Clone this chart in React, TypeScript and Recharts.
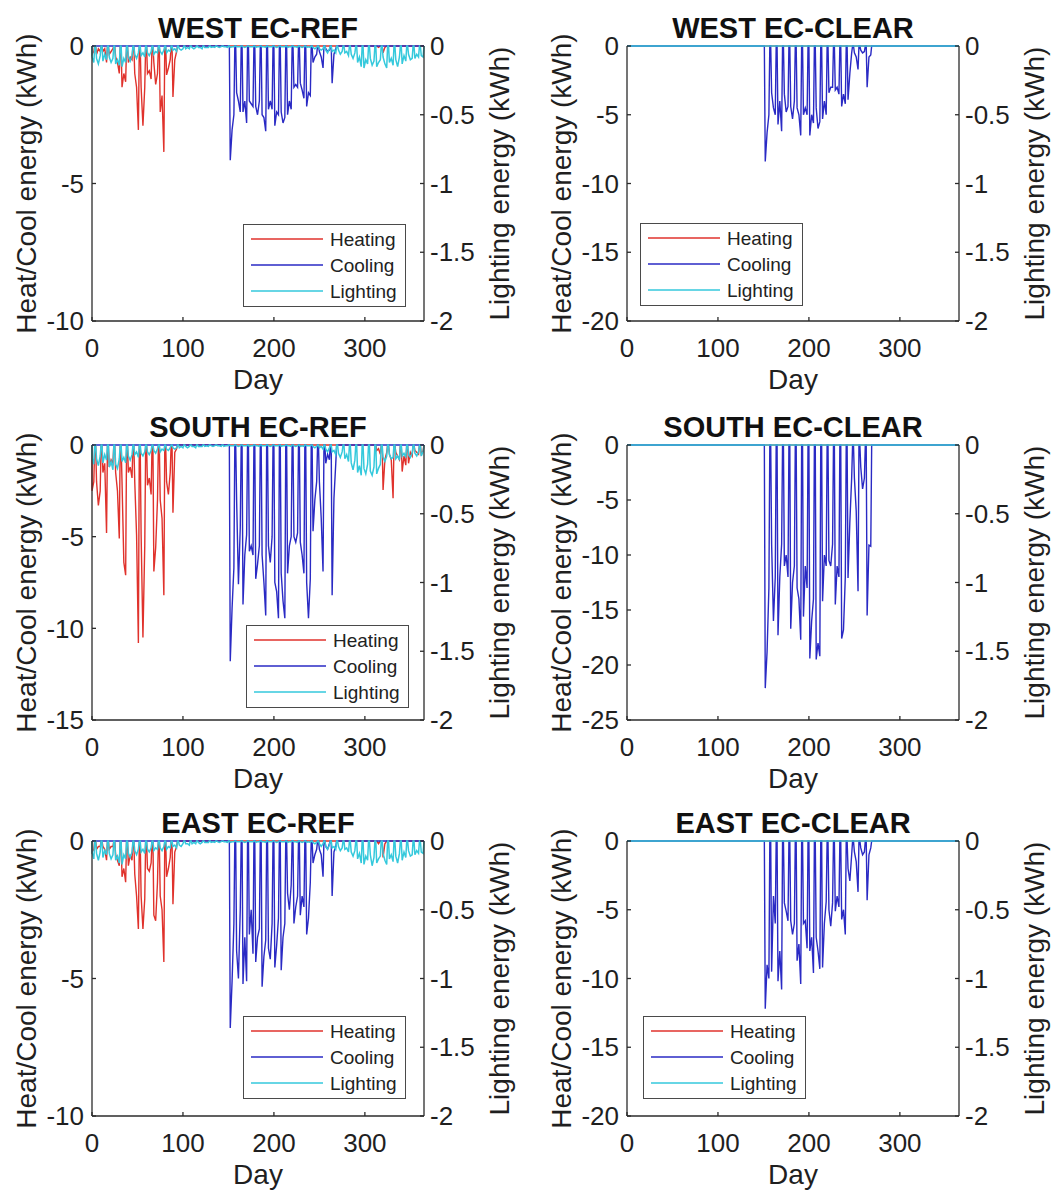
import React from 'react';
import { LineChart, Line, XAxis, YAxis, Legend, Label } from 'recharts';

const FONT = 'Arial, "Liberation Sans", Helvetica, sans-serif';
const TEXT_COLOR = '#1f1f1f';
const FRAME_COLOR = '#2b2b2b';
const HEAT_COLOR = '#e0322c';
const COOL_COLOR = '#2a2ac4';
const LIGHT_COLOR = '#35c9dc';

const dayDomain = [0, 365];
const dayTicks = [0, 100, 200, 300];
const lightingDomain = [-2, 0];
const lightingTicks = [-2, -1.5, -1, -0.5, 0];
const heatCoolTicks10 = [-10, -5, 0];
const heatCoolTicks15 = [-15, -10, -5, 0];
const heatCoolTicks20 = [-20, -15, -10, -5, 0];
const heatCoolTicks25 = [-25, -20, -15, -10, -5, 0];

const seriesNames = ['Heating', 'Cooling', 'Lighting'];
const seriesColors = [HEAT_COLOR, COOL_COLOR, LIGHT_COLOR];

// First Monday (day index) of each block of weekly values.
// Each week lists the Monday, Wednesday and Friday values; weekends are zero.
const yearStart = -2;
const winterStart = -2;
const coolingStart = 152;
const autumnStart = 313;

// ---------- WEST EC-REF ----------
const westRefHeatingWinter = [
  [-0.5, -0.3, -0.2], [-0.3, -0.1, -0.2], [-0.2, -0.1, -0.6], [-0.3, -0.2, -0.1], [-0.4, -0.6, -1.0],
  [-1.5, -1.0, -1.3], [-0.6, -0.4, -0.5], [-1.0, -1.5, -3.05], [-1.5, -2.9, -1.5], [-1.0, -0.9, -1.2],
  [-0.6, -1.4, -1.0], [-2.4, -1.8, -3.85], [-1.05, -0.8, -0.5], [-1.85, -0.5, -0.2],
];
const westRefHeatingAutumn = [[0, -0.05, 0], [-0.25, -0.05, 0]];
const westRefCooling = [
  [-4.15, -3.05, -2.5], [-1.7, -2.0, -2.4], [-2.4, -2.0, -2.8], [-2.0, -2.1, -2.2], [-2.2, -2.5, -2.0],
  [-2.5, -2.6, -3.1], [-2.3, -2.0, -2.3], [-2.9, -2.4, -2.5], [-2.4, -2.8, -2.6], [-2.5, -2.0, -2.3],
  [-1.5, -1.4, -1.5], [-1.35, -1.6, -1.9], [-2.2, -1.7, -1.8], [-0.6, -0.4, -0.3], [-0.2, -0.4, -0.8],
  [-0.1, -0.2, -0.15], [-1.35, -0.3, -0.1],
];
const westRefLighting = [
  [-0.10, -0.08, -0.12], [-0.09, -0.13, -0.07], [-0.11, -0.06, -0.10], [-0.08, -0.12, -0.09], [-0.13, -0.10, -0.14],
  [-0.15, -0.09, -0.12], [-0.08, -0.11, -0.07], [-0.06, -0.09, -0.05], [-0.07, -0.05, -0.08], [-0.05, -0.07, -0.04],
  [-0.06, -0.04, -0.05], [-0.04, -0.06, -0.03], [-0.05, -0.03, -0.04], [-0.03, -0.02, -0.04], [-0.02, -0.03, -0.02],
  [-0.02, -0.01, -0.02], [-0.01, -0.02, -0.01], [-0.01, -0.01, -0.02], [-0.01, -0.01, -0.01], [-0.01, -0.005, -0.01],
  [-0.005, -0.01, -0.005], [-0.005, -0.005, -0.01], [-0.01, -0.005, -0.005], [-0.005, -0.005, -0.005], [-0.005, -0.01, -0.005],
  [-0.005, -0.005, -0.005], [-0.01, -0.005, -0.005], [-0.005, -0.005, -0.01], [-0.005, -0.005, -0.005], [-0.005, -0.01, -0.005],
  [-0.005, -0.005, -0.005], [-0.01, -0.005, -0.005], [-0.005, -0.005, -0.01], [-0.005, -0.01, -0.005], [-0.01, -0.005, -0.01],
  [-0.01, -0.02, -0.01], [-0.02, -0.03, -0.02], [-0.03, -0.05, -0.02], [-0.04, -0.03, -0.05], [-0.03, -0.06, -0.04],
  [-0.05, -0.04, -0.07], [-0.06, -0.09, -0.05], [-0.12, -0.08, -0.15], [-0.16, -0.10, -0.13], [-0.09, -0.14, -0.11],
  [-0.15, -0.12, -0.10], [-0.08, -0.13, -0.16], [-0.12, -0.09, -0.14], [-0.10, -0.15, -0.08], [-0.13, -0.07, -0.11],
  [-0.06, -0.10, -0.09], [-0.09, -0.06, -0.08], [-0.07, -0.08, -0.06],
];

// ---------- WEST EC-CLEAR ----------
const westClearCooling = [
  [-8.4, -6.3, -5.0], [-3.4, -4.5, -5.0], [-5.7, -4.0, -6.2], [-3.5, -4.8, -4.4], [-4.4, -5.3, -4.0],
  [-4.5, -5.0, -6.5], [-5.0, -4.5, -5.0], [-6.5, -5.0, -5.6], [-4.5, -6.0, -5.5], [-5.3, -4.0, -5.0],
  [-3.4, -3.0, -3.0], [-3.2, -3.0, -3.5], [-4.4, -3.5, -4.2], [-3.9, -2.0, -0.5], [-0.5, -0.8, -1.7],
  [-0.3, -0.5, -0.4], [-3.0, -0.8, -0.65],
];

// ---------- SOUTH EC-REF ----------
const southRefHeatingWinter = [
  [-3.3, -2.5, -2.0], [-2.0, -3.3, -2.5], [-1.5, -1.0, -4.8], [-1.2, -0.8, -1.0], [-1.5, -2.5, -5.1],
  [-2.0, -6.4, -7.1], [-1.5, -1.2, -1.8], [-2.0, -4.9, -10.8], [-4.9, -10.5, -5.5], [-2.2, -1.8, -2.7],
  [-6.9, -5.6, -3.0], [-3.0, -4.0, -8.2], [-2.0, -2.7, -1.5], [-3.7, -0.4, -0.2],
];
const southRefHeatingAutumn = [
  [-0.3, -0.2, -0.5], [-2.45, -0.8, -0.4], [-0.5, -0.8, -2.9], [-0.4, -0.6, -0.8],
  [-1.45, -0.6, -1.1], [-1.0, -0.4, -0.6], [-0.3, -0.4, -0.5], [-0.5, -0.3, -0.2],
];
const southRefCooling = [
  [-11.8, -8.9, -6.7], [-3.0, -7.6, -4.5], [-8.7, -6.0, -4.9], [-5.8, -5.5, -6.0], [-7.3, -6.5, -5.5],
  [-6.0, -7.5, -9.3], [-5.5, -6.4, -5.0], [-7.5, -8.0, -9.45], [-7.0, -8.5, -9.45], [-7.0, -5.5, -5.0],
  [-5.0, -5.3, -4.8], [-5.3, -6.0, -7.0], [-7.5, -9.45, -7.3], [-4.7, -3.0, -2.0], [-2.0, -4.0, -6.9],
  [-1.0, -0.5, -0.8], [-8.2, -2.9, -1.0],
];
const southRefLighting = [
  [-0.12, -0.09, -0.14], [-0.10, -0.15, -0.08], [-0.13, -0.07, -0.11], [-0.16, -0.12, -0.18], [-0.14, -0.17, -0.10],
  [-0.12, -0.09, -0.13], [-0.08, -0.11, -0.07], [-0.07, -0.05, -0.09], [-0.06, -0.08, -0.05], [-0.05, -0.07, -0.04],
  [-0.04, -0.06, -0.03], [-0.05, -0.03, -0.04], [-0.03, -0.04, -0.02], [-0.02, -0.03, -0.02], [-0.02, -0.01, -0.02],
  [-0.01, -0.02, -0.01], [-0.01, -0.01, -0.02], [-0.01, -0.01, -0.01], [-0.01, -0.005, -0.01], [-0.005, -0.01, -0.005],
  [-0.005, -0.005, -0.01], [-0.01, -0.005, -0.005], [-0.005, -0.005, -0.005], [-0.005, -0.01, -0.005], [-0.005, -0.005, -0.005],
  [-0.01, -0.005, -0.005], [-0.005, -0.005, -0.01], [-0.005, -0.005, -0.005], [-0.005, -0.01, -0.005], [-0.005, -0.005, -0.005],
  [-0.01, -0.005, -0.005], [-0.005, -0.005, -0.01], [-0.005, -0.01, -0.005], [-0.01, -0.005, -0.01], [-0.005, -0.005, -0.005],
  [-0.01, -0.02, -0.01], [-0.02, -0.01, -0.03], [-0.03, -0.05, -0.02], [-0.05, -0.04, -0.07], [-0.06, -0.09, -0.05],
  [-0.10, -0.07, -0.12], [-0.13, -0.18, -0.11], [-0.20, -0.15, -0.22], [-0.17, -0.21, -0.14], [-0.19, -0.22, -0.16],
  [-0.21, -0.17, -0.14], [-0.09, -0.12, -0.08], [-0.07, -0.10, -0.09], [-0.10, -0.08, -0.11], [-0.08, -0.06, -0.09],
  [-0.07, -0.09, -0.06], [-0.06, -0.08, -0.05], [-0.08, -0.05, -0.07],
];

// ---------- SOUTH EC-CLEAR ----------
const southClearCooling = [
  [-22.1, -18.8, -13.0], [-9.0, -16.0, -12.0], [-17.3, -12.0, -9.0], [-11.0, -10.0, -12.0], [-16.7, -12.5, -11.0],
  [-13.0, -14.0, -17.7], [-15.6, -11.0, -13.0], [-19.4, -16.0, -14.0], [-19.5, -18.0, -19.2], [-14.2, -10.0, -11.0],
  [-10.5, -11.0, -9.0], [-14.5, -11.0, -12.0], [-17.6, -16.8, -12.0], [-12.1, -7.0, -3.0], [-3.0, -6.0, -13.3],
  [-2.0, -4.0, -3.0], [-15.5, -9.1, -9.2],
];

// ---------- EAST EC-REF ----------
const eastRefHeatingWinter = [
  [-0.6, -0.4, -0.3], [-0.3, -0.2, -0.2], [-0.2, -0.3, -0.7], [-0.3, -0.2, -0.2], [-0.5, -0.7, -0.9],
  [-1.3, -1.0, -1.5], [-0.9, -0.5, -0.7], [-1.2, -2.0, -3.2], [-2.0, -3.2, -2.1], [-1.0, -1.1, -0.8],
  [-2.7, -2.9, -1.5], [-2.0, -2.5, -4.4], [-1.3, -1.0, -0.6], [-2.3, -0.4, -0.2],
];
const eastRefHeatingAutumn = [[0, -0.1, 0], [-0.6, -0.1, 0]];
const eastRefCooling = [
  [-6.8, -5.1, -3.0], [-4.0, -5.0, -2.5], [-5.2, -3.5, -5.1], [-3.4, -2.5, -4.1], [-4.4, -3.5, -3.2],
  [-5.3, -4.2, -3.6], [-3.9, -4.3, -3.0], [-4.6, -3.8, -2.8], [-4.7, -3.5, -3.0], [-1.9, -2.5, -1.6],
  [-3.0, -2.4, -2.0], [-2.7, -2.0, -2.4], [-3.4, -2.8, -1.5], [-0.8, -0.5, -0.3], [-0.3, -0.5, -1.3],
  [-0.2, -0.3, -0.1], [-2.0, -0.4, -0.2],
];
const eastRefLighting = [
  [-0.11, -0.08, -0.13], [-0.09, -0.14, -0.08], [-0.12, -0.07, -0.10], [-0.09, -0.13, -0.10], [-0.14, -0.11, -0.16],
  [-0.17, -0.10, -0.13], [-0.09, -0.12, -0.08], [-0.07, -0.10, -0.06], [-0.08, -0.06, -0.09], [-0.06, -0.08, -0.05],
  [-0.07, -0.05, -0.06], [-0.05, -0.07, -0.04], [-0.06, -0.04, -0.05], [-0.04, -0.03, -0.05], [-0.03, -0.04, -0.02],
  [-0.02, -0.02, -0.03], [-0.02, -0.01, -0.02], [-0.01, -0.02, -0.01], [-0.01, -0.01, -0.01], [-0.01, -0.005, -0.01],
  [-0.005, -0.01, -0.005], [-0.005, -0.005, -0.01], [-0.01, -0.005, -0.005], [-0.005, -0.005, -0.005], [-0.005, -0.01, -0.005],
  [-0.005, -0.005, -0.005], [-0.01, -0.005, -0.005], [-0.005, -0.005, -0.01], [-0.005, -0.005, -0.005], [-0.005, -0.01, -0.005],
  [-0.005, -0.005, -0.005], [-0.01, -0.005, -0.005], [-0.005, -0.005, -0.01], [-0.005, -0.01, -0.005], [-0.01, -0.005, -0.01],
  [-0.01, -0.02, -0.01], [-0.02, -0.04, -0.02], [-0.04, -0.06, -0.03], [-0.05, -0.04, -0.06], [-0.04, -0.07, -0.05],
  [-0.06, -0.05, -0.08], [-0.08, -0.11, -0.07], [-0.13, -0.09, -0.16], [-0.17, -0.11, -0.14], [-0.10, -0.18, -0.12],
  [-0.16, -0.13, -0.11], [-0.09, -0.14, -0.17], [-0.13, -0.10, -0.15], [-0.11, -0.16, -0.09], [-0.14, -0.08, -0.12],
  [-0.07, -0.11, -0.10], [-0.10, -0.07, -0.09], [-0.08, -0.09, -0.07],
];

// ---------- EAST EC-CLEAR ----------
const eastClearCooling = [
  [-12.2, -9.0, -10.0], [-9.5, -4.0, -6.0], [-10.2, -8.0, -10.8], [-4.5, -5.1, -5.8], [-5.8, -6.8, -6.0],
  [-8.7, -7.5, -10.4], [-6.0, -5.8, -7.8], [-8.0, -7.0, -9.6], [-7.0, -8.0, -9.3], [-9.2, -6.0, -4.4],
  [-5.0, -6.2, -4.5], [-5.1, -4.0, -4.8], [-5.7, -5.0, -6.8], [-2.0, -2.9, -1.0], [-0.8, -1.5, -3.7],
  [-0.5, -1.0, -0.8], [-4.3, -1.0, -0.5],
];

type Segment = { start: number; weeks: number[][] };
type Pt = { day: number; v: number };

function weeklyToPoints(segments: Segment[]): Pt[] {
  const raw: Pt[] = [{ day: 0, v: 0 }];
  segments.forEach((seg) => {
    raw.push({ day: seg.start - 1, v: 0 });
    seg.weeks.forEach((w, i) => {
      const s = seg.start + 7 * i;
      raw.push(
        { day: s, v: w[0] },
        { day: s + 2, v: w[1] },
        { day: s + 4, v: w[2] },
        { day: s + 5, v: 0 },
        { day: s + 6, v: 0 }
      );
    });
  });
  raw.push({ day: 365, v: 0 });
  return raw
    .filter((p) => p.day >= 0 && p.day <= 365)
    .map((p, i) => ({ ...p, i }))
    .sort((a, b) => a.day - b.day || a.i - b.i)
    .map(({ day, v }) => ({ day, v }));
}

type PanelCfg = {
  title: string;
  left: number;
  top: number;
  width: number;
  domain: number[];
  ticks: number[];
  heating: Segment[];
  cooling: Segment[];
  lighting: Segment[];
  legend: { x: number; y: number } | null;
};

const panels: PanelCfg[] = [
  {
    title: 'WEST EC-REF', left: 0, top: 0, width: 528, domain: [-10, 0], ticks: heatCoolTicks10,
    heating: [{ start: winterStart, weeks: westRefHeatingWinter }, { start: autumnStart, weeks: westRefHeatingAutumn }],
    cooling: [{ start: coolingStart, weeks: westRefCooling }],
    lighting: [{ start: yearStart, weeks: westRefLighting }],
    legend: { x: 243, y: 224 },
  },
  {
    title: 'WEST EC-CLEAR', left: 535, top: 0, width: 522, domain: [-20, 0], ticks: heatCoolTicks20,
    heating: [], cooling: [{ start: coolingStart, weeks: westClearCooling }], lighting: [],
    legend: { x: 105, y: 223 },
  },
  {
    title: 'SOUTH EC-REF', left: 0, top: 399, width: 528, domain: [-15, 0], ticks: heatCoolTicks15,
    heating: [{ start: winterStart, weeks: southRefHeatingWinter }, { start: autumnStart, weeks: southRefHeatingAutumn }],
    cooling: [{ start: coolingStart, weeks: southRefCooling }],
    lighting: [{ start: yearStart, weeks: southRefLighting }],
    legend: { x: 246, y: 226 },
  },
  {
    title: 'SOUTH EC-CLEAR', left: 535, top: 399, width: 522, domain: [-25, 0], ticks: heatCoolTicks25,
    heating: [], cooling: [{ start: coolingStart, weeks: southClearCooling }], lighting: [],
    legend: null,
  },
  {
    title: 'EAST EC-REF', left: 0, top: 795, width: 528, domain: [-10, 0], ticks: heatCoolTicks10,
    heating: [{ start: winterStart, weeks: eastRefHeatingWinter }, { start: autumnStart, weeks: eastRefHeatingAutumn }],
    cooling: [{ start: coolingStart, weeks: eastRefCooling }],
    lighting: [{ start: yearStart, weeks: eastRefLighting }],
    legend: { x: 243, y: 221 },
  },
  {
    title: 'EAST EC-CLEAR', left: 535, top: 795, width: 522, domain: [-20, 0], ticks: heatCoolTicks20,
    heating: [], cooling: [{ start: coolingStart, weeks: eastClearCooling }], lighting: [],
    legend: { x: 108, y: 221 },
  },
];

const PLOT_LEFT = 92;
const PLOT_W = 332;
const PLOT_TOP = 46;
const PLOT_H = 275;
const CHART_H = 401;
const LEFT_AXIS_W = 62;
const RIGHT_AXIS_W = 60;

const tickStyle = { fontSize: 26, fill: TEXT_COLOR, fontFamily: FONT };
const frameLine = { stroke: FRAME_COLOR, strokeWidth: 1.3 };

function LegendBox() {
  return (
    <div
      style={{
        width: 163, height: 83, boxSizing: 'border-box', border: '1.5px solid #4a4a4a',
        background: '#fff', paddingTop: 1,
      }}
    >
      {seriesNames.map((n, i) => (
        <div key={n} style={{ height: 26, display: 'flex', alignItems: 'center' }}>
          <svg width={80} height={6} style={{ display: 'block' }}>
            <line x1={7} y1={3} x2={79} y2={3} stroke={seriesColors[i]} strokeWidth={1.6} />
          </svg>
          <span style={{ marginLeft: 6, fontFamily: FONT, fontSize: 19, color: '#222', lineHeight: '19px' }}>{n}</span>
        </div>
      ))}
    </div>
  );
}

function Panel({ p }: { p: PanelCfg }) {
  const marginRight = p.width - PLOT_LEFT - PLOT_W - RIGHT_AXIS_W;
  const heatingPts = weeklyToPoints(p.heating);
  const coolingPts = weeklyToPoints(p.cooling);
  const lightingPts = weeklyToPoints(p.lighting);
  return (
    <div style={{ position: 'absolute', left: p.left, top: p.top, width: p.width, height: CHART_H }}>
      <div
        style={{
          position: 'absolute', left: PLOT_LEFT, width: PLOT_W, top: PLOT_TOP - 8 - 24.5, textAlign: 'center',
          fontFamily: FONT, fontWeight: 'bold', fontSize: 29, lineHeight: '29px', color: '#111', whiteSpace: 'nowrap',
          zIndex: 2,
        }}
      >
        {p.title}
      </div>
      <LineChart
        width={p.width}
        height={CHART_H}
        margin={{ top: PLOT_TOP, right: marginRight, bottom: 0, left: PLOT_LEFT - LEFT_AXIS_W }}
      >
        <XAxis
          xAxisId="bottom" dataKey="day" type="number" domain={dayDomain} ticks={dayTicks} interval={0}
          height={CHART_H - PLOT_TOP - PLOT_H} tickSize={-4} tickMargin={22} tick={tickStyle}
          axisLine={frameLine} tickLine={frameLine}
        >
          <Label value="Day" position="center" dy={18} fontSize={28} fill={TEXT_COLOR} fontFamily={FONT} />
        </XAxis>
        <XAxis
          xAxisId="top" orientation="top" dataKey="day" type="number" domain={dayDomain} ticks={dayTicks}
          interval={0} height={0} tickSize={-4} tickFormatter={() => ''} axisLine={frameLine} tickLine={frameLine}
        />
        <YAxis
          yAxisId="left" type="number" domain={p.domain} ticks={p.ticks} interval={0} width={LEFT_AXIS_W}
          tickSize={-4} tickMargin={12} tick={tickStyle} axisLine={frameLine} tickLine={frameLine}
        >
          <Label
            value="Heat/Cool energy (kWh)" angle={-90} position="center" dx={-35}
            fontSize={28} fill={TEXT_COLOR} fontFamily={FONT}
          />
        </YAxis>
        <YAxis
          yAxisId="right" orientation="right" type="number" domain={lightingDomain} ticks={lightingTicks}
          interval={0} width={RIGHT_AXIS_W} tickSize={-4} tickMargin={10} tick={tickStyle}
          axisLine={frameLine} tickLine={frameLine}
        >
          <Label
            value="Lighting energy (kWh)" angle={-90} position="center" dx={45}
            fontSize={28} fill={TEXT_COLOR} fontFamily={FONT}
          />
        </YAxis>
        <Line
          xAxisId="bottom" yAxisId="left" data={heatingPts} dataKey="v" name="Heating" type="linear"
          stroke={HEAT_COLOR} strokeWidth={1.4} dot={false} activeDot={false} isAnimationActive={false}
        />
        <Line
          xAxisId="bottom" yAxisId="left" data={coolingPts} dataKey="v" name="Cooling" type="linear"
          stroke={COOL_COLOR} strokeWidth={1.4} dot={false} activeDot={false} isAnimationActive={false}
        />
        <Line
          xAxisId="bottom" yAxisId="right" data={lightingPts} dataKey="v" name="Lighting" type="linear"
          stroke={LIGHT_COLOR} strokeWidth={1.5} dot={false} activeDot={false} isAnimationActive={false}
        />
        {p.legend && (
          <Legend
            layout="vertical" align="center" verticalAlign="middle"
            wrapperStyle={{ left: p.legend.x, top: p.legend.y, width: 163, height: 83 }}
            content={() => <LegendBox />}
          />
        )}
      </LineChart>
    </div>
  );
}

export default function App() {
  return (
    <div
      style={{
        position: 'absolute', left: 0, top: 0, width: 1057, height: 1193, overflow: 'hidden',
        background: '#fff', fontFamily: FONT,
      }}
    >
      {panels.map((p) => (
        <Panel key={p.title} p={p} />
      ))}
    </div>
  );
}
